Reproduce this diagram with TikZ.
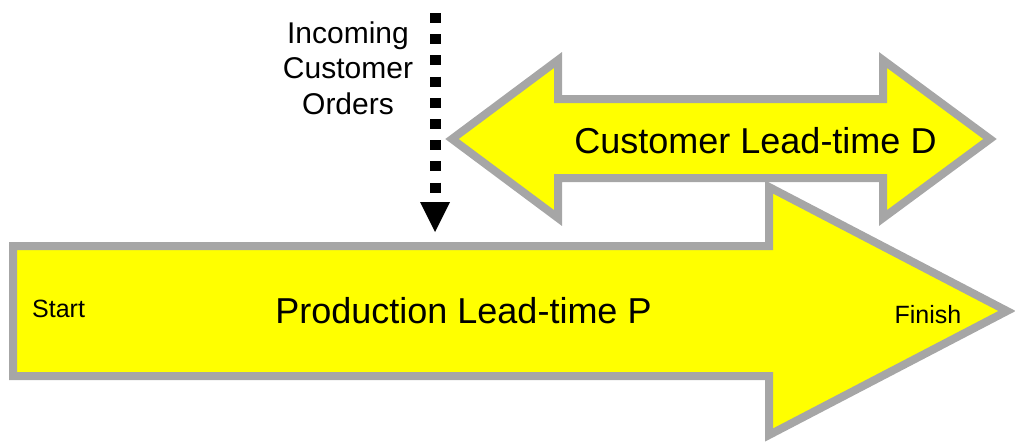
\documentclass[tikz,border=0pt]{standalone}
\usepackage{fontspec}
\setmainfont{Liberation Sans}
\usetikzlibrary{arrows.meta}
\definecolor{arrowfill}{RGB}{255,255,0}
\definecolor{arrowedge}{RGB}{166,166,166}
\begin{document}
\begin{tikzpicture}[x=1pt,y=-1pt,
  leadarrow/.style={fill=arrowfill, draw=arrowedge, line width=8pt, line join=miter},
  bigtext/.style={inner sep=0pt, anchor=base, font=\fontsize{36}{40}\selectfont},
  smalltext/.style={inner sep=0pt, font=\fontsize{25}{28}\selectfont},
  ordertext/.style={inner sep=0pt, anchor=base, align=center, font=\fontsize{30}{35.5}\selectfont},
  orderflow/.style={line width=11pt, line cap=butt, dash pattern=on 10pt off 11.2pt,
    -{Triangle[length=30pt,width=30pt,line width=0pt]}}]
\useasboundingbox (0,0) rectangle (1015,442);

% customer lead-time: double-headed block arrow
\draw[leadarrow] (452,139) -- (558,60) -- (558,99) -- (883,99) -- (883,60)
  -- (990,139) -- (883,218) -- (883,178) -- (558,178) -- (558,218) -- cycle;

% production lead-time: single block arrow
\draw[leadarrow] (13,246) -- (769,246) -- (769,187) -- (1007,311)
  -- (769,435) -- (769,376) -- (13,376) -- cycle;

% incoming orders
\coordinate (ordersTop) at (435,13);
\coordinate (ordersIn) at (435,232);
\draw[orderflow] (ordersTop) -- (ordersIn);

% base anchor of the three-line label sits on its last line
\node[ordertext] (orders) at (348,114) {Incoming\\Customer\\Orders};
\node[bigtext] (customer) at (755.5,153) {Customer Lead-time D};
\node[bigtext] (production) at (463.5,323) {Production Lead-time P};
\node[smalltext, anchor=base west] (start) at (32,317) {Start};
\node[smalltext, anchor=base] (finish) at (928,323) {Finish};
\end{tikzpicture}
\end{document}
